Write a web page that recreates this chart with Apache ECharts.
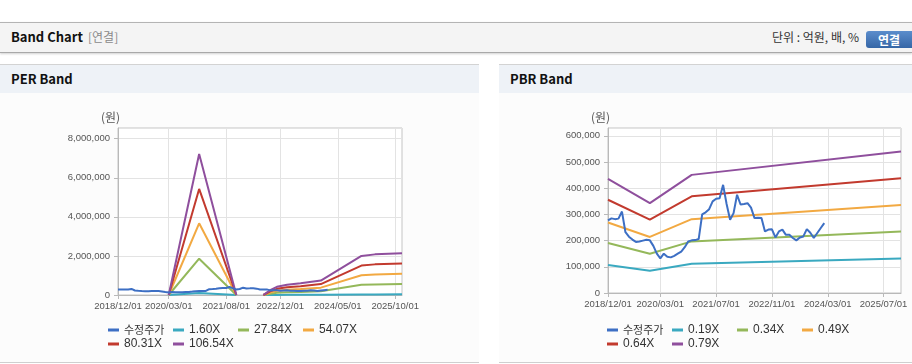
<!DOCTYPE html>
<html><head><meta charset="utf-8">
<script src="https://cdn.jsdelivr.net/npm/echarts@6/dist/echarts.min.js"></script>
<style>
html,body{margin:0;padding:0}
body{width:912px;height:364px;overflow:hidden;background:#fff;position:relative;font-family:"Noto Sans CJK KR","Noto Sans",sans-serif;color:#222}
.hdr{position:absolute;left:0;top:22px;width:912px;height:29px;background:#f4f4f4;border-top:1px solid #b4b4b4;border-bottom:1px solid #a9a9a9;box-shadow:0 1px 2px rgba(0,0,0,0.18)}
.hdr .t{position:absolute;left:11px;top:5px;font-size:13px;font-weight:bold;line-height:18px;color:#111}
.hdr .s{position:absolute;left:88px;top:5px;font-size:12px;line-height:18px;color:#8a8a8a}
.hdr .u{position:absolute;right:53px;top:5px;font-size:12px;line-height:18px;color:#333}
.btn{position:absolute;left:866px;top:31px;width:52px;height:17px;border-radius:3px;background:linear-gradient(#5b8dcc,#3566a6);color:#fff;font-size:12px;font-weight:bold;line-height:17px;text-indent:12px}
.panel{position:absolute;top:64px;height:297px;background:#fcfcfc;border-top:1px solid #d3d3d3;border-bottom:1px solid #cfcfcf}
.panel .ph{height:28px;background:#eef2f7}
.panel .ph span{position:absolute;top:5px;font-size:13px;font-weight:bold;line-height:18px;color:#111}
#chart{position:absolute;left:0;top:0;width:912px;height:364px}
</style></head>
<body>
<div class="hdr"><span class="t">Band Chart</span><span class="s">[연결]</span><span class="u">단위 : 억원, 배, %</span></div>
<div class="btn">연결</div>
<div class="panel" style="left:0;width:479px"><div class="ph"><span style="left:11px">PER Band</span></div></div>
<div class="panel" style="left:499px;width:413px"><div class="ph"><span style="left:11px">PBR Band</span></div></div>
<div id="chart"></div>
<script>
// ---- data ----
const months = [
'2018/12/01',
'2019/01/01','2019/02/01','2019/03/01','2019/04/01','2019/05/01','2019/06/01','2019/07/01','2019/08/01','2019/09/01','2019/10/01','2019/11/01','2019/12/01',
'2020/01/01','2020/02/01','2020/03/01','2020/04/01','2020/05/01','2020/06/01','2020/07/01','2020/08/01','2020/09/01','2020/10/01','2020/11/01','2020/12/01',
'2021/01/01','2021/02/01','2021/03/01','2021/04/01','2021/05/01','2021/06/01','2021/07/01','2021/08/01','2021/09/01','2021/10/01','2021/11/01','2021/12/01',
'2022/01/01','2022/02/01','2022/03/01','2022/04/01','2022/05/01','2022/06/01','2022/07/01','2022/08/01','2022/09/01','2022/10/01','2022/11/01','2022/12/01',
'2023/01/01','2023/02/01','2023/03/01','2023/04/01','2023/05/01','2023/06/01','2023/07/01','2023/08/01','2023/09/01','2023/10/01','2023/11/01','2023/12/01',
'2024/01/01','2024/02/01','2024/03/01','2024/04/01','2024/05/01','2024/06/01','2024/07/01','2024/08/01','2024/09/01','2024/10/01','2024/11/01','2024/12/01',
'2025/01/01','2025/02/01','2025/03/01','2025/04/01','2025/05/01','2025/06/01','2025/07/01','2025/08/01','2025/09/01','2025/10/01','2025/11/01','2025/12/01'
];
const perTickLabels = ['2018/12/01','2020/03/01','2021/08/01','2022/12/01','2024/05/01','2025/10/01'];
const pbrTickLabels = ['2018/12/01','2020/03/01','2021/07/01','2022/11/01','2024/03/01','2025/07/01'];

// adjusted price (수정주가), monthly from 2018/12
const price = [277000,285000,282000,284000,311000,232000,215000,204000,195000,197000,
 200000,203000,201000,180000,150000,132000,150000,138000,136000,142000,
 150000,158000,175000,197000,201000,202000,206000,300000,308000,320000,
 350000,360000,362000,413000,340000,280000,305000,375000,338000,340000,
 343000,326000,286000,287000,286000,235000,242000,243000,212000,235000,
 242000,222000,222000,210000,201000,212000,216000,244000,230000,210000,
 229000,248000,267000];

// PER band knots (month index) and values; '-' = gap
const perKnots = [15,24,35,36,43,45,47,50,54,60,72,76,84];
const per160  = [0,108000,0,'-',0,4000,6000,8000,9000,11000,30000,31000,32000];
const per2784 = [0,1860000,0,'-',0,65000,110000,136000,157000,193000,523000,543000,559000];
const per5407 = [0,3670000,0,'-',0,127000,213000,264000,304000,376000,1015000,1055000,1086000];
const per8031 = [0,5430000,0,'-',0,189000,316000,392000,452000,558000,1507000,1568000,1613000];
const per10654= [0,7220000,0,'-',0,250000,420000,520000,600000,740000,2000000,2080000,2140000];

// PBR band knots
const pbrKnots = [0,12,24,84];
const pbr019 = [107000,85000,112000,132000];
const pbr034 = [191000,150000,197000,235000];
const pbr049 = [269000,214000,282000,336000];
const pbr064 = [356000,280000,369000,438000];
const pbr079 = [436000,343000,451000,540000];

const perNames = ['수정주가','1.60X','27.84X','54.07X','80.31X','106.54X'];
const pbrNames = ['수정주가','0.19X','0.34X','0.49X','0.64X','0.79X'];
const colors = ['#3d6fc4','#3aa9c0','#94b85a','#f2a942','#c23a2e','#8f4f9d'];

// ---- build ----
const NUMF = '"Liberation Sans",Arial,sans-serif';
const pairs = (xs, ys) => xs.map((x, i) => [x, ys[i]]);
function xAxisFor(gi, labels){
  const show = (i, v) => labels.indexOf(v) >= 0;
  return {
    type:'category', gridIndex:gi, data:months, boundaryGap:false,
    axisLine:{lineStyle:{color:'#b9b9b9'}},
    axisTick:{show:true, interval:show, length:4, lineStyle:{color:'#b9b9b9'}},
    axisLabel:{interval:show, showMinLabel:true, hideOverlap:false, color:'#555', fontSize:9.5, fontFamily:NUMF, margin:6},
    splitLine:{show:true, interval:show, lineStyle:{color:'#e3e3e3'}}
  };
}
function yAxisFor(gi, max, step){
  return {
    type:'value', gridIndex:gi, min:0, max:max, interval:step,
    axisLine:{show:true, lineStyle:{color:'#b9b9b9'}},
    axisTick:{show:true, length:4, lineStyle:{color:'#b9b9b9'}},
    axisLabel:{color:'#555', fontSize:9.5, fontFamily:NUMF, margin:8, showMaxLabel:false, showMinLabel:true,
      formatter:v => v.toLocaleString('en-US')},
    splitLine:{show:true, lineStyle:{color:'#e3e3e3'}}
  };
}
function legendFor(left, names){
  return {
    left:left, top:323, width:262, padding:0, itemGap:0, itemWidth:11, itemHeight:3, icon:'rect',
    data:names, selectedMode:false,
    formatter: n => n === '수정주가' ? '{k|' + n + '}' : n,
    textStyle:{fontSize:12, fontFamily:NUMF, color:'#333', width:49, lineHeight:14,
      rich:{k:{fontSize:11, fontFamily:'"Noto Sans CJK KR",sans-serif', color:'#333', lineHeight:14}}}
  };
}
function line(name, gi, data, color){
  return {type:'line', name:name, xAxisIndex:gi, yAxisIndex:gi, data:data, showSymbol:false, symbol:'none',
    connectNulls:false, lineStyle:{width:2, color:color}, itemStyle:{color:color}, animation:false, clip:true};
}
const perBands = [per160, per2784, per5407, per8031, per10654];
const pbrBands = [pbr019, pbr034, pbr049, pbr064, pbr079];
const series = [];
perBands.forEach((b, i) => series.push(line(perNames[i+1], 0, pairs(perKnots, b), colors[i+1])));
series.push(line(perNames[0], 0, price, colors[0]));
pbrBands.forEach((b, i) => series.push(line(pbrNames[i+1], 1, pairs(pbrKnots, b), colors[i+1])));
series.push(line(pbrNames[0], 1, price, colors[0]));

const chart = echarts.init(document.getElementById('chart'), null, {renderer:'canvas'});
chart.setOption({
  animation:false,
  color:colors,
  grid:[
    {left:118, top:128, width:284, height:167, show:true, borderColor:'#c4c4c4', borderWidth:1, backgroundColor:'#fff'},
    {left:608, top:128, width:293, height:165, show:true, borderColor:'#c4c4c4', borderWidth:1, backgroundColor:'#fff'}
  ],
  xAxis:[xAxisFor(0, perTickLabels), xAxisFor(1, pbrTickLabels)],
  yAxis:[yAxisFor(0, 8550000, 2000000), yAxisFor(1, 630000, 100000)],
  legend:[legendFor(108, perNames), legendFor(607, pbrNames)],
  graphic:[
    {type:'text', left:101, top:111, style:{text:'(원)', fontSize:12, fill:'#555', fontFamily:'"Noto Sans CJK KR",sans-serif'}},
    {type:'text', left:591, top:111, style:{text:'(원)', fontSize:12, fill:'#555', fontFamily:'"Noto Sans CJK KR",sans-serif'}}
  ],
  series:series
});
</script>
</body></html>
